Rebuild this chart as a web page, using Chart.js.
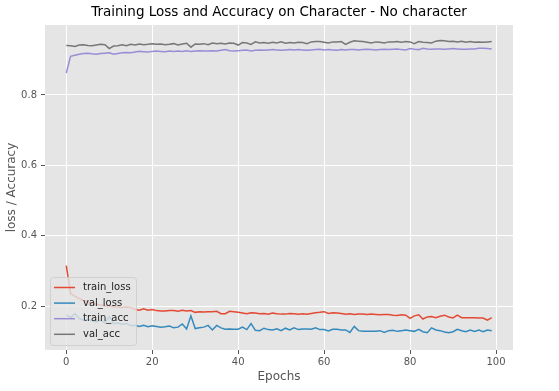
<!DOCTYPE html>
<html><head><meta charset="utf-8">
<script src="https://cdn.jsdelivr.net/npm/chart.js@4"></script>
<style>html,body{margin:0;padding:0;background:#fff}</style>
</head><body>
<canvas id="c" width="559" height="391"></canvas>
<script>
const epochs = [0,1,2,3,4,5,6,7,8,9,10,11,12,13,14,15,16,17,18,19,20,21,22,23,24,25,26,27,28,29,30,31,32,33,34,35,36,37,38,39,40,41,42,43,44,45,46,47,48,49,50,51,52,53,54,55,56,57,58,59,60,61,62,63,64,65,66,67,68,69,70,71,72,73,74,75,76,77,78,79,80,81,82,83,84,85,86,87,88,89,90,91,92,93,94,95,96,97,98,99];

const trainLoss = [0.315,0.235,0.228,0.222,0.215,0.212,0.208,0.205,0.203,0.201,0.200,0.198,0.197,0.196,0.197,0.196,0.190,0.188,0.192,0.188,0.190,0.187,0.186,0.186,0.187,0.187,0.185,0.188,0.186,0.187,0.182,0.184,0.183,0.184,0.184,0.185,0.178,0.178,0.185,0.184,0.182,0.180,0.178,0.181,0.180,0.178,0.179,0.177,0.180,0.178,0.177,0.177,0.179,0.178,0.177,0.178,0.177,0.179,0.181,0.182,0.184,0.179,0.181,0.180,0.179,0.177,0.178,0.176,0.177,0.177,0.176,0.177,0.176,0.175,0.176,0.176,0.174,0.173,0.175,0.174,0.165,0.172,0.175,0.163,0.169,0.170,0.167,0.171,0.174,0.169,0.166,0.174,0.167,0.167,0.167,0.167,0.166,0.166,0.160,0.167];

const valLoss = [0.175,0.168,0.178,0.165,0.160,0.162,0.158,0.155,0.160,0.152,0.170,0.150,0.152,0.148,0.150,0.144,0.145,0.142,0.145,0.141,0.144,0.142,0.140,0.141,0.143,0.138,0.140,0.149,0.135,0.172,0.136,0.138,0.140,0.145,0.132,0.145,0.138,0.134,0.135,0.134,0.134,0.140,0.133,0.150,0.131,0.130,0.137,0.133,0.132,0.135,0.130,0.137,0.132,0.138,0.133,0.135,0.135,0.134,0.138,0.133,0.133,0.129,0.134,0.134,0.132,0.132,0.125,0.142,0.130,0.128,0.128,0.128,0.128,0.130,0.125,0.130,0.131,0.128,0.130,0.132,0.130,0.128,0.134,0.127,0.124,0.138,0.132,0.130,0.126,0.124,0.127,0.134,0.130,0.127,0.132,0.128,0.132,0.127,0.132,0.130];

const trainAcc = [0.862,0.910,0.913,0.916,0.918,0.919,0.917,0.916,0.918,0.919,0.920,0.916,0.918,0.920,0.921,0.920,0.922,0.924,0.923,0.922,0.924,0.925,0.924,0.923,0.925,0.924,0.925,0.924,0.926,0.924,0.925,0.926,0.925,0.925,0.926,0.925,0.927,0.929,0.926,0.925,0.926,0.927,0.928,0.925,0.927,0.928,0.927,0.928,0.929,0.928,0.927,0.928,0.929,0.928,0.929,0.928,0.927,0.928,0.929,0.930,0.928,0.929,0.928,0.927,0.929,0.928,0.929,0.929,0.928,0.929,0.930,0.929,0.928,0.929,0.930,0.929,0.930,0.931,0.929,0.928,0.932,0.930,0.929,0.933,0.931,0.930,0.931,0.931,0.930,0.931,0.932,0.931,0.930,0.930,0.931,0.931,0.933,0.933,0.932,0.931];

const valAcc = [0.941,0.940,0.938,0.942,0.943,0.941,0.940,0.942,0.944,0.943,0.932,0.939,0.940,0.943,0.940,0.944,0.942,0.945,0.943,0.944,0.946,0.944,0.945,0.943,0.944,0.946,0.942,0.945,0.947,0.936,0.945,0.944,0.946,0.943,0.948,0.946,0.947,0.945,0.948,0.947,0.942,0.949,0.948,0.944,0.951,0.948,0.949,0.947,0.950,0.948,0.951,0.947,0.949,0.948,0.950,0.949,0.946,0.951,0.952,0.952,0.950,0.948,0.951,0.951,0.952,0.944,0.950,0.954,0.953,0.952,0.950,0.948,0.951,0.950,0.948,0.951,0.951,0.952,0.950,0.952,0.951,0.946,0.952,0.950,0.949,0.948,0.953,0.955,0.954,0.952,0.953,0.951,0.953,0.950,0.952,0.950,0.951,0.950,0.951,0.952];

const xTicks = [0,20,40,60,80,100];
const yTicks = [0.2,0.4,0.6,0.8];

const seriesNames = ['train_loss','val_loss','train_acc','val_acc'];
const seriesColors = ['#E24A33','#348ABD','#988ED5','#777777'];
const seriesValues = [trainLoss, valLoss, trainAcc, valAcc];
const chartTitle = 'Training Loss and Accuracy on Character - No character';

const FONT = "'DejaVu Sans', sans-serif";

const bgPlugin = {
  id: 'bg',
  beforeDraw(chart) {
    const {ctx, chartArea: a} = chart;
    ctx.save();
    ctx.fillStyle = '#E5E5E5';
    ctx.fillRect(a.left, a.top, a.right - a.left, a.bottom - a.top);
    ctx.restore();
  }
};

const titlePlugin = {
  id: 'centerTitle',
  afterDraw(chart) {
    const {ctx, chartArea: a} = chart;
    ctx.save();
    ctx.font = '13.5px ' + FONT;
    ctx.fillStyle = '#000000';
    ctx.textAlign = 'center';
    ctx.textBaseline = 'middle';
    ctx.fillText(chartTitle, (a.left + a.right) / 2, 12.5);
    ctx.restore();
  }
};

const legendPlugin = {
  id: 'boxLegend',
  afterDatasetsDraw(chart) {
    const {ctx, chartArea: a} = chart;
    const x0 = a.left + 5, y1 = a.bottom - 5;
    const w = 86, h = 68, y0 = y1 - h;
    ctx.save();
    ctx.beginPath();
    if (ctx.roundRect) ctx.roundRect(x0 + 0.5, y0 + 0.5, w, h, 3); else ctx.rect(x0 + 0.5, y0 + 0.5, w, h);
    ctx.fillStyle = 'rgba(229,229,229,0.8)';
    ctx.fill();
    ctx.strokeStyle = 'rgba(204,204,204,0.8)';
    ctx.lineWidth = 1;
    ctx.stroke();
    ctx.font = '10px ' + FONT;
    ctx.textBaseline = 'middle';
    ctx.textAlign = 'left';
    chart.data.datasets.forEach((ds, i) => {
      const cy = y0 + 10.5 + i * 15.6;
      ctx.beginPath();
      ctx.moveTo(x0 + 4, cy);
      ctx.lineTo(x0 + 25, cy);
      ctx.strokeStyle = ds.borderColor;
      ctx.lineWidth = 1.5;
      ctx.stroke();
      ctx.fillStyle = '#222222';
      ctx.fillText(ds.label, x0 + 33, cy);
    });
    ctx.restore();
  }
};

new Chart(document.getElementById('c'), {
  type: 'line',
  data: {
    datasets: seriesNames.map((name, i) => ({
      label: name,
      data: epochs.map((e, j) => ({x: e, y: seriesValues[i][j]})),
      borderColor: seriesColors[i],
      backgroundColor: seriesColors[i],
      borderWidth: 1.5,
      pointRadius: 0,
      tension: 0,
      fill: false
    }))
  },
  options: {
    responsive: false,
    animation: false,
    devicePixelRatio: 1,
    layout: {padding: {top: 25, right: 46, bottom: 0, left: 0}},
    plugins: {
      legend: {display: false},
      tooltip: {enabled: false},
      title: {display: false}
    },
    scales: {
      x: {
        type: 'linear',
        min: -4.95, max: 103.95,
        afterBuildTicks(s) { s.ticks = xTicks.map(v => ({value: v})); },
        afterFit(s) { s.height = 41; },
        border: {display: false},
        grid: {color: '#FFFFFF', lineWidth: 1, tickColor: '#555555', tickLength: 4},
        ticks: {color: '#555555', font: {family: FONT, size: 10}, padding: 2, maxRotation: 0,
                callback: v => String(v)},
        title: {display: true, text: 'Epochs', color: '#555555', font: {family: FONT, size: 12},
                padding: {top: 0, bottom: 6.8}}
      },
      y: {
        type: 'linear',
        min: 0.075, max: 0.999,
        afterBuildTicks(s) { s.ticks = yTicks.map(v => ({value: v})); },
        afterFit(s) { s.width = 45; },
        border: {display: false},
        grid: {color: '#FFFFFF', lineWidth: 1, tickColor: '#555555', tickLength: 4},
        ticks: {color: '#555555', font: {family: FONT, size: 10}, padding: 4,
                callback: v => v.toFixed(1)},
        title: {display: true, text: 'loss / Accuracy', color: '#555555', font: {family: FONT, size: 12},
                padding: {top: 5, bottom: 0}}
      }
    }
  },
  plugins: [bgPlugin, legendPlugin, titlePlugin]
});
</script>
</body></html>
